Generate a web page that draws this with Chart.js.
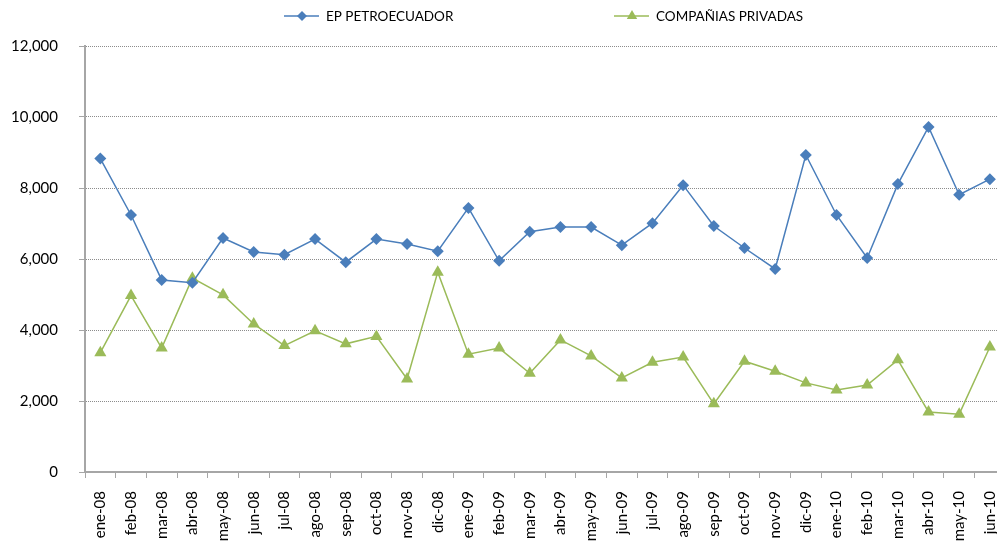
<!DOCTYPE html>
<html>
<head>
<meta charset="utf-8">
<script src="https://cdn.jsdelivr.net/npm/chart.js@4"></script>
<style>
  html, body { margin:0; padding:0; background:#fff; overflow:hidden; }
  #wrap { position:relative; width:1021px; height:542px; }
</style>
</head>
<body>
<div id="wrap"><canvas id="c"></canvas></div>
<script>
// ======= Data =======
const months = ['ene-08','feb-08','mar-08','abr-08','may-08','jun-08','jul-08','ago-08','sep-08','oct-08','nov-08','dic-08',
  'ene-09','feb-09','mar-09','abr-09','may-09','jun-09','jul-09','ago-09','sep-09','oct-09','nov-09','dic-09',
  'ene-10','feb-10','mar-10','abr-10','may-10','jun-10'];
const petroecuador = [8830,7240,5410,5330,6590,6200,6120,6560,5910,6560,6420,6220,
  7440,5950,6770,6900,6900,6390,7010,8080,6930,6310,5720,8930,
  7240,6030,8110,9720,7810,8250];
const privadas = [3360,4970,3490,5460,4990,4170,3560,3980,3610,3820,2620,5630,
  3320,3490,2780,3720,3270,2650,3090,3240,1920,3120,2840,2510,
  2310,2450,3160,1690,1630,3520];
const yTicks = [0,2000,4000,6000,8000,10000,12000];

// ======= Style =======
const BLUE = '#4a7ebb', GREEN = '#9bbb59', AXIS = '#a6a6a6';
const FONT = 'Lato, "Open Sans", sans-serif';

// legend drawn on canvas: line + marker + text
const legendPlugin = {
  id: 'lineLegend',
  afterDraw(chart){
    const ctx = chart.ctx;
    const items = [
      { x: 284, label: 'EP PETROECUADOR', color: BLUE, style: 'rectRot', r: 5 },
      { x: 614, label: 'COMPAÑIAS PRIVADAS', color: GREEN, style: 'triangle', r: 6 }
    ];
    const y = 16;
    ctx.save();
    ctx.font = '13.5px ' + FONT;
    ctx.textBaseline = 'middle';
    for (const it of items) {
      ctx.strokeStyle = it.color; ctx.lineWidth = 1.5;
      ctx.beginPath(); ctx.moveTo(it.x, y); ctx.lineTo(it.x + 35, y); ctx.stroke();
      ctx.fillStyle = it.color;
      Chart.helpers.drawPoint(ctx, { pointStyle: it.style, radius: it.r, borderWidth: 0 }, it.x + 18, y);
      ctx.fillStyle = '#000';
      ctx.fillText(it.label, it.x + 42, y + 1);
    }
    ctx.restore();
  }
};

new Chart(document.getElementById('c'), {
  type: 'line',
  data: {
    labels: months,
    datasets: [
      { label: 'EP PETROECUADOR', data: petroecuador, borderColor: BLUE, backgroundColor: BLUE,
        borderWidth: 1.5, pointStyle: 'rectRot', pointRadius: 6, pointBorderWidth: 0, tension: 0 },
      { label: 'COMPAÑIAS PRIVADAS', data: privadas, borderColor: GREEN, backgroundColor: GREEN,
        borderWidth: 1.5, pointStyle: 'triangle', pointRadius: 7, pointBorderWidth: 0, tension: 0 }
    ]
  },
  options: {
    responsive: true,
    maintainAspectRatio: false,
    animation: false,
    layout: { padding: { top: 46, left: 5, right: 0, bottom: 0 } },
    plugins: { legend: { display: false }, tooltip: { enabled: false } },
    scales: {
      x: {
        offset: true,
        afterFit: s => { s.height = 70; },
        grid: { drawOnChartArea: false, drawTicks: true, tickLength: 6, color: AXIS, offset: true },
        border: { color: AXIS, width: 2 },
        ticks: { minRotation: 90, maxRotation: 90, autoSkip: false, color: '#000', padding: 13,
                 font: { family: FONT, size: 15 } }
      },
      y: {
        min: 0, max: 12000,
        afterBuildTicks: s => { s.ticks = yTicks.map(v => ({ value: v })); },
        afterFit: s => { s.width = 80; },
        grid: { color: '#8c8c8c', lineWidth: 1, tickLength: 6, drawTicks: true,
                tickColor: AXIS, tickBorderDash: [] },
        border: { color: AXIS, width: 2, dash: [1, 1] },
        ticks: { color: '#000', padding: 21, font: { family: FONT, size: 15 },
                 callback: v => v.toLocaleString('en-US') }
      }
    }
  },
  plugins: [legendPlugin]
});
</script>
</body>
</html>
